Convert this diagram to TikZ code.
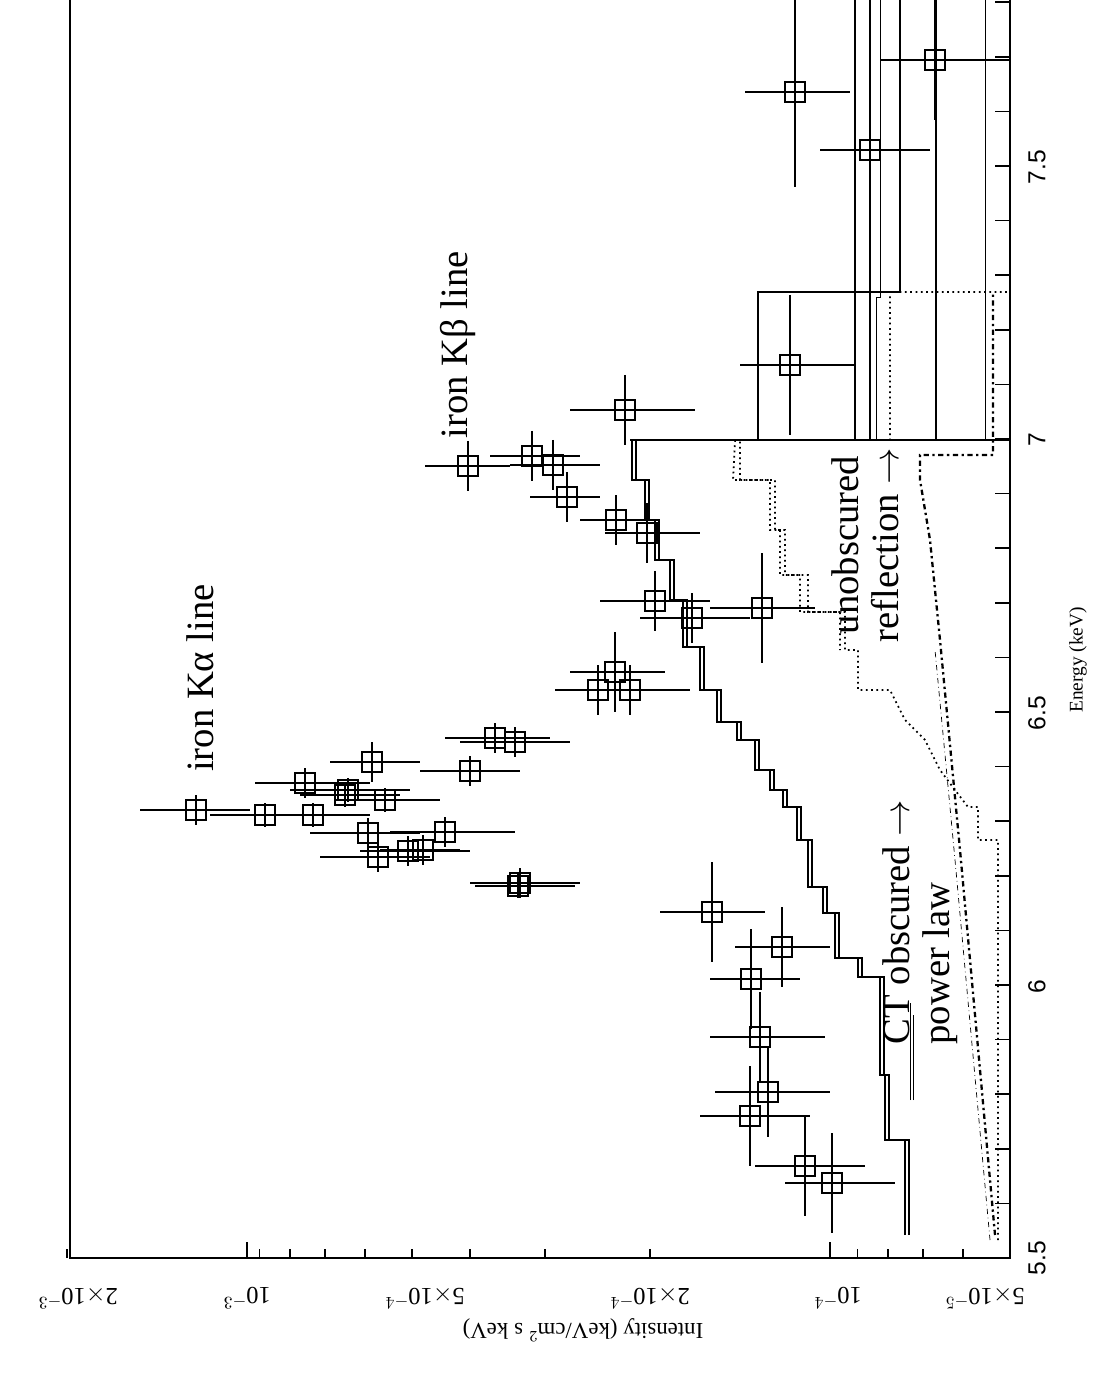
\documentclass[tikz,border=0pt]{standalone}
\usepackage{fontspec}
\setmainfont{Liberation Serif}
\setsansfont{Liberation Sans}
\usepackage{amsmath}
\tikzset{
	errbar/.style = {line width = 1.1pt},
	model/.style = {line width = 1.1pt},
	refl/.style = {line width = 1pt, dotted},
	plaw/.style = {line width = 1.3pt, dash dot},
	lbl/.style = {font = \fontsize{22}{23}\selectfont, rotate = 90, align = left, inner sep = 0pt}
}
\begin{document}
\begin{tikzpicture}[x = 0.02cm, y = -0.02cm]
	\useasboundingbox (0, 0) rectangle (1096, 1381);
	% frame
	\draw[line width = 1.2pt] (70, 0) -- (70, 1258) -- (1010, 1258) -- (1010, 0);
	% energy ticks
	\foreach \y in {0, ..., 23}
	\draw[line width = 1pt] (1010, 1258 - 54.6 * \y) -- (995, 1258 - 54.6 * \y);
	\foreach \e/\y in {5.5/1258, 6/987, 6.5/713, 7/440, 7.5/167}
	\node[rotate = 90, font = \sffamily\fontsize{14}{15}\selectfont] (e\y) at (1037, \y) {\e};
	\node[rotate = 90, font = \fontsize{11}{12}\selectfont] (elabel) at (1078, 660) {Energy (keV)};
	% intensity ticks
	\foreach \x in {247, 830}
	\draw[line width = 1pt] (\x, 1258) -- (\x, 1242);
	\foreach \k in {2, ..., 9}
	{
		\draw[line width = 1pt] ({830 - log10(\k) * 598}, 1258) -- ({830 - log10(\k) * 598}, 1249);
		\draw[line width = 1pt] ({247 - log10(\k) * 598}, 1258) -- ({247 - log10(\k) * 598}, 1249);
	}
	\foreach \k in {6, ..., 9}
	\draw[line width = 1pt] ({1010 - log10(\k / 5) * 598}, 1258) -- ({1010 - log10(\k / 5) * 598}, 1249);
	\foreach \t/\x in {5$\times$10$^{-5}$/985, 10$^{-4}$/838, 2$\times$10$^{-4}$/650, 5$\times$10$^{-4}$/425, 10$^{-3}$/247, 2$\times$10$^{-3}$/78}
	\node[rotate = 180, font = \fontsize{14}{15}\selectfont] at (\x, 1298) {\t};
	\node[rotate = 180, font = \fontsize{13}{14}\selectfont] (ilabel) at (583, 1330) {Intensity (keV/cm$^{2}$ s keV)};
	
	% model above 7 keV
	\draw[model] (630, 440) -- (1010, 440);
	\draw[model] (758, 440) -- (758, 292) -- (900, 292) -- (900, 0);
	\foreach \x in {855, 870, 936}
	\draw[model] (\x, 440) -- (\x, 0);
	\draw[thin] (876, 440) -- (876, 297) -- (880, 297) -- (880, 0);
	\draw[thin] (985, 440) -- (985, 0);
	
	% total model
	\foreach \d in {0, 4}
	\draw[model, xshift = \d * 0.02cm] (905, 1235) -- (905, 1140) -- (885, 1140) -- (885, 1075) -- (880, 1075) -- (880, 977) -- (858, 977) -- (858, 958) -- (835, 958) -- (835, 913) -- (823, 913) -- (823, 887) -- (808, 887) -- (808, 840) -- (797, 840) -- (797, 807) -- (783, 807) -- (783, 790) -- (770, 790) -- (770, 770) -- (755, 770) -- (755, 740) -- (737, 740) -- (737, 722) -- (717, 722) -- (717, 690) -- (700, 690) -- (700, 647) -- (683, 647) -- (683, 600) -- (670, 600) -- (670, 560) -- (655, 560) -- (655, 520) -- (645, 520) -- (645, 480) -- (632, 480) -- (632, 440);
	\draw[thin] (910, 1100) -- (910, 1003);
	\draw[thin] (913, 1100) -- (913, 1015);
	
	% reflection
	\draw[refl] (998, 1240) -- (998, 840) -- (978, 840) -- (978, 807) -- (968, 807) -- (955, 790) -- (940, 770) -- (925, 740) -- (905, 720) -- (890, 690) -- (858, 690) -- (858, 650) -- (845, 650) -- (845, 612) -- (808, 612) -- (808, 575) -- (785, 575) -- (785, 530) -- (775, 530) -- (775, 480) -- (740, 480) -- (740, 440) -- (890, 440) -- (890, 292) -- (1010, 292);
	\draw[refl] (735, 440) -- (733, 480) -- (770, 480) -- (770, 530) -- (780, 530) -- (780, 575) -- (800, 575) -- (800, 612) -- (840, 612) -- (840, 650);
	
	% power law
	\draw[plaw] (995, 1235) -- (960, 850) -- (940, 640) -- (930, 540) -- (920, 480) -- (920, 455) -- (993, 455) -- (993, 292);
	\draw[thin, dash dot] (990, 1240) -- (955, 860) -- (935, 650);
	
	% data
	\foreach \x/\y/\a/\b/\h in {196/810/140/250/15, 265/815/210/320/12, 313/815/260/370/12, 305/783/255/370/15, 372/762/330/420/20, 348/790/290/410/12, 345/795/300/400/12, 385/800/335/440/12, 368/833/310/420/15, 378/857/320/430/15, 408/851/360/470/15, 423/850/380/460/15, 445/832/390/515/15, 470/771/420/520/15, 495/738/445/550/15, 515/742/460/570/15, 520/883/470/580/15, 518/886/475/575/12, 598/690/555/640/25, 615/672/570/665/40, 630/690/580/690/25, 655/601/600/710/30, 692/618/640/750/25, 762/608/710/815/55, 647/533/605/700/30, 616/520/580/660/25, 567/497/530/600/25, 553/465/510/600/25, 532/456/490/580/25, 468/466/425/510/25, 625/410/570/695/35, 712/912/660/765/50, 782/947/735/830/40, 751/979/710/800/50, 760/1037/710/825/45, 768/1092/715/830/45, 750/1116/700/810/50, 805/1166/755/865/50, 832/1183/785/895/50, 790/365/740/855/70, 795/92/745/850/95, 870/150/820/930/60, 935/60/880/1010/60}
	{
		\draw[errbar] (\a, \y) -- (\b, \y);
		\draw[errbar] (\x, \y - \h) -- (\x, \y + \h);
		\draw[line width = 1pt] (\x - 10, \y - 10) rectangle (\x + 10, \y + 10);
	}
	
	% labels
	\node[lbl] (kalpha) at (200, 678) {iron Kα line};
	\node[lbl] (kbeta) at (458, 345) {iron Kβ line};
	\node[lbl, align = center] (refltxt) at (865, 545) {unobscured\\reflection $\rightarrow$};
	\node[lbl, align = left] (plawtxt) at (920, 922) {CT obscured $\rightarrow$\\power law};
\end{tikzpicture}
\end{document}
